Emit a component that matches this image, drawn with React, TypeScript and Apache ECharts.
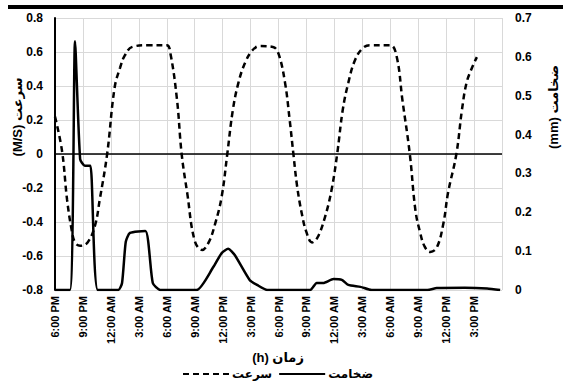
import React, { useEffect, useRef } from "react";
import * as echarts from "echarts";

// Hours since 6:00 PM on day 1
const speedHours = [0, 0.75, 1.3, 1.8, 2.15, 2.7, 3.5, 4.3, 4.8, 5.6, 6.4, 7.0, 7.5, 8.3, 10.0, 12.0, 12.4, 13.1, 13.6, 14.2, 15.0, 15.8, 16.5, 17.2, 17.9, 18.5, 19.1, 19.7, 20.4, 21.2, 22.0, 23.4, 24.0, 24.7, 25.2, 25.6, 26.0, 26.5, 27.0, 27.6, 28.2, 29.0, 29.7, 30.3, 30.9, 31.5, 32.2, 33.0, 33.8, 36.0, 36.7, 37.3, 38.1, 38.7, 39.2, 39.7, 40.3, 41.0, 41.7, 42.2, 43.1, 43.7, 44.2, 44.8, 45.3];
const speedValues = [0.22, 0.02, -0.27, -0.45, -0.52, -0.54, -0.52, -0.42, -0.27, 0.0, 0.39, 0.51, 0.58, 0.63, 0.64, 0.64, 0.59, 0.32, 0.0, -0.23, -0.51, -0.565, -0.52, -0.41, -0.25, 0.0, 0.26, 0.42, 0.535, 0.61, 0.635, 0.63, 0.59, 0.42, 0.2, 0.0, -0.19, -0.35, -0.46, -0.52, -0.49, -0.37, -0.21, 0.0, 0.26, 0.42, 0.55, 0.62, 0.64, 0.64, 0.57, 0.32, 0.0, -0.33, -0.46, -0.545, -0.576, -0.55, -0.41, -0.23, 0.0, 0.26, 0.42, 0.51, 0.57];

const thickHours = [0, 1.6, 2.15, 2.7, 3.2, 3.8, 4.6, 6.8, 7.2, 7.6, 8.05, 9.7, 10.5, 11.3, 15.2, 17.0, 17.9, 18.6, 19.3, 20.9, 21.7, 22.8, 27.4, 28.1, 28.8, 29.9, 30.8, 31.5, 32.8, 34.0, 40.0, 41.0, 44.0, 46.4, 47.8];
const thickValues = [0, 0, 0.64, 0.337, 0.32, 0.32, 0, 0, 0.018, 0.124, 0.147, 0.152, 0.018, 0, 0, 0.059, 0.095, 0.106, 0.09, 0.026, 0.013, 0, 0, 0.018, 0.018, 0.028, 0.026, 0.013, 0.008, 0, 0, 0.005, 0.006, 0.004, 0];

const timeLabels = ["6:00 PM", "9:00 PM", "12:00 AM", "3:00 AM", "6:00 AM", "9:00 AM", "12:00 PM", "3:00 PM", "6:00 PM", "9:00 PM", "12:00 AM", "3:00 AM", "6:00 AM", "9:00 AM", "12:00 PM", "3:00 PM"];

const speedName = "سرعت";
const thickName = "ضخامت";
const leftAxisTitle = "(M/S) سرعت";
const rightAxisTitle = "(mm) ضخامت";
const xAxisTitle = "(h) زمان";

const FONT = "'Liberation Sans', Arial, 'DejaVu Sans', sans-serif";

export default function App() {
  const ref = useRef<HTMLDivElement>(null);
  useEffect(() => {
    if (!ref.current) return;
    const chart = echarts.init(ref.current, null, { renderer: "svg" });
    const speedData = speedHours.map((h, i) => [h, speedValues[i]]);
    const thickData = thickHours.map((h, i) => [h, thickValues[i]]);
    chart.setOption({
      animation: false,
      backgroundColor: "#ffffff",
      grid: { left: 55, right: 61, top: 18, bottom: 93, containLabel: false },
      legend: {
        data: [speedName, thickName],
        left: 177,
        top: 363,
        itemWidth: 46,
        itemHeight: 10,
        itemGap: 6,
        itemStyle: { opacity: 0 },
        textStyle: { fontFamily: FONT, fontWeight: "bold", fontSize: 12, color: "#000", padding: [0, 0, 0, -2] },
      },
      xAxis: {
        type: "value",
        min: 0,
        max: 48,
        interval: 3,
        axisLine: { show: false },
        axisTick: { show: false },
        splitLine: { show: true, lineStyle: { color: "#d9d9d9", width: 1 } },
        axisLabel: {
          rotate: 90,
          margin: 6,
          fontFamily: FONT,
          fontWeight: "bold",
          fontSize: 11,
          color: "#000",
          formatter: (v: number) => timeLabels[Math.round(v / 3)] ?? "",
        },
      },
      yAxis: [
        {
          type: "value",
          min: -0.8,
          max: 0.8,
          interval: 0.2,
          position: "left",
          axisLine: { show: true, onZero: false, lineStyle: { color: "#000", width: 2 } },
          axisTick: { show: false },
          splitLine: { show: true, lineStyle: { color: "#d9d9d9", width: 1 } },
          axisLabel: {
            margin: 12,
            fontFamily: FONT,
            fontWeight: "bold",
            fontSize: 12,
            color: "#000",
            formatter: (v: number) => (Math.abs(v) < 1e-9 ? "0" : v.toFixed(1)),
          },
        },
        {
          type: "value",
          min: 0,
          max: 0.7,
          interval: 0.1,
          position: "right",
          axisLine: { show: false },
          axisTick: { show: false },
          splitLine: { show: false },
          axisLabel: {
            margin: 13,
            fontFamily: FONT,
            fontWeight: "bold",
            fontSize: 12,
            color: "#000",
            formatter: (v: number) => (Math.abs(v) < 1e-9 ? "0" : v.toFixed(1)),
          },
        },
      ],
      series: [
        {
          name: speedName,
          type: "line",
          yAxisIndex: 0,
          data: speedData,
          showSymbol: false,
          symbol: "none",
          smooth: 0.4,
          lineStyle: { color: "#000", width: 2.5, type: [6, 4] },
          itemStyle: { color: "#000" },
          markLine: {
            silent: true,
            symbol: "none",
            label: { show: false },
            lineStyle: { color: "#000", width: 1.5, type: "solid" },
            data: [{ yAxis: 0 }],
          },
          z: 3,
        },
        {
          name: thickName,
          type: "line",
          yAxisIndex: 1,
          data: thickData,
          showSymbol: false,
          symbol: "none",
          smooth: 0.2,
          lineStyle: { color: "#000", width: 2.5, type: "solid" },
          itemStyle: { color: "#000" },
          z: 4,
        },
      ],
      graphic: [
        { type: "rect", left: 8, top: 5, shape: { width: 555, height: 4 }, style: { fill: "#000" } },
        {
          type: "text",
          x: 17,
          y: 117,
          rotation: Math.PI / 2,
          style: { text: leftAxisTitle, fontFamily: FONT, fontWeight: "bold", fontSize: 13, fill: "#000", align: "center", verticalAlign: "middle" },
        },
        {
          type: "text",
          x: 553,
          y: 107,
          rotation: Math.PI / 2,
          style: { text: rightAxisTitle, fontFamily: FONT, fontWeight: "bold", fontSize: 13, fill: "#000", align: "center", verticalAlign: "middle" },
        },
        {
          type: "text",
          x: 278,
          y: 357,
          style: { text: xAxisTitle, fontFamily: FONT, fontWeight: "bold", fontSize: 13, fill: "#000", align: "center", verticalAlign: "middle" },
        },
      ],
    });
    return () => chart.dispose();
  }, []);
  return <div ref={ref} style={{ width: 563, height: 383, position: "absolute", left: 0, top: 0 }} />;
}
